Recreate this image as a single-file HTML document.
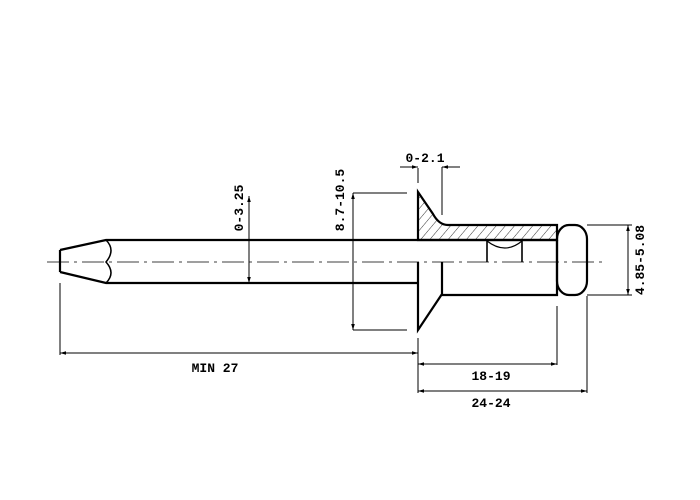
<!DOCTYPE html>
<html><head><style>body{margin:0;background:#fff}svg{display:block}text{font-family:"Liberation Mono",monospace;font-weight:bold;font-size:13px;fill:#000}</style></head>
<body>
<svg width="700" height="500" viewBox="0 0 700 500">
<defs>
<pattern id="h" width="7" height="7" patternUnits="userSpaceOnUse" patternTransform="rotate(40)"><line x1="0" y1="0" x2="0" y2="7" stroke="#000" stroke-width="0.8"/></pattern>
<marker id="a" viewBox="0 0 10 10" refX="10" refY="5" markerWidth="8" markerHeight="6" orient="auto-start-reverse"><path d="M0,2 L10,5 L0,8z" fill="#000"/></marker>
</defs>
<!-- centerline -->
<line x1="47" y1="262" x2="605" y2="262" stroke="#000" stroke-width="0.8" stroke-dasharray="22,5,3,5"/>
<!-- mandrel -->
<g fill="none" stroke="#000" stroke-width="2.2">
<path d="M60,250 L60,272 M60,250 L106,240 L418,240 M60,272 L106,283 L418,283"/>
<path d="M106,240 Q116,250 106,262 Q116,273 106,283" stroke-width="1.5"/>
<!-- hatch region -->
<path d="M418,192 L433,214 Q439,225 448,225 L557,225 L557,240 L418,240 Z" fill="url(#h)"/>
<path d="M418,262 L418,330 L442,294 L442,262 M442,295 L557,295 L557,240 M418,240 L557,240"/>
<path d="M487,240 L487,262 M522,240 L522,262" stroke-width="1.6"/>
<path d="M487,241 Q505,255 522,241" stroke-width="1.2"/>
<rect x="557" y="225" width="30" height="70" rx="12" ry="14"/>
</g>
<!-- dimensions -->
<g stroke="#000" stroke-width="1" fill="none">
<line x1="249" y1="196" x2="249" y2="283" marker-start="url(#a)" marker-end="url(#a)"/>
<line x1="353" y1="193" x2="407" y2="193"/><line x1="353" y1="330" x2="407" y2="330"/>
<line x1="353" y1="193" x2="353" y2="330" marker-start="url(#a)" marker-end="url(#a)"/>
<line x1="418" y1="168" x2="418" y2="183"/><line x1="442" y1="167" x2="442" y2="215"/>
<line x1="400" y1="167" x2="418" y2="167" marker-end="url(#a)"/><line x1="460" y1="167" x2="442" y2="167" marker-end="url(#a)"/>
<line x1="587" y1="225" x2="632" y2="225"/><line x1="587" y1="295" x2="632" y2="295"/>
<line x1="628" y1="225" x2="628" y2="295" marker-start="url(#a)" marker-end="url(#a)"/>
<line x1="60" y1="283" x2="60" y2="355"/>
<line x1="60" y1="353" x2="418" y2="353" marker-start="url(#a)" marker-end="url(#a)"/>
<line x1="418" y1="338" x2="418" y2="393"/>
<line x1="557" y1="306" x2="557" y2="365"/><line x1="587" y1="296" x2="587" y2="393"/>
<line x1="418" y1="364" x2="557" y2="364" marker-start="url(#a)" marker-end="url(#a)"/>
<line x1="418" y1="391" x2="587" y2="391" marker-start="url(#a)" marker-end="url(#a)"/>
</g>
<text x="425" y="162" text-anchor="middle">0-2.1</text>
<text transform="translate(243,208) rotate(-90)" text-anchor="middle">0-3.25</text>
<text transform="translate(344,200) rotate(-90)" text-anchor="middle">8.7-10.5</text>
<text transform="translate(644,260) rotate(-90)" text-anchor="middle">4.85-5.08</text>
<text x="215" y="372" text-anchor="middle">MIN 27</text>
<text x="491" y="380" text-anchor="middle">18-19</text>
<text x="491" y="407" text-anchor="middle">24-24</text>
</svg>
</body></html>
